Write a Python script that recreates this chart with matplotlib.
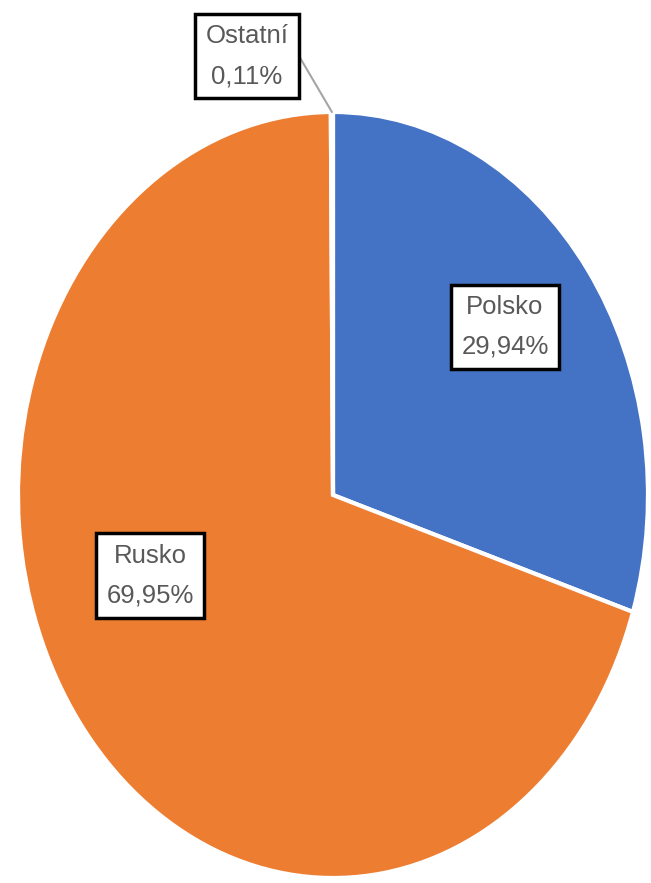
import numpy as np
import matplotlib.pyplot as plt

# Data
labels = ["Polsko", "Rusko", "Ostatní"]
values = [29.94, 69.95, 0.11]
colors = ["#4472C4", "#ED7D31", "#A5A5A5"]

# label box centers (data coords, pie radius = 1)
label_pos = [(0.546, 0.439), (-0.581, -0.211), (-0.273, 1.146)]

fig = plt.figure(figsize=(6.51, 8.83), dpi=100)
# pie is stretched into an ellipse, so use an axes with free aspect
ax = fig.add_axes([18 / 651, 5 / 883, 630 / 651, 766 / 883])

wedges, _ = ax.pie(values, colors=colors, startangle=90, counterclock=False,
                   radius=1, wedgeprops=dict(edgecolor="white", linewidth=3))
ax.set_aspect("auto")
ax.set_xlim(-1, 1)
ax.set_ylim(-1, 1)
ax.set_axis_off()

box = dict(boxstyle="square,pad=0.4", facecolor="white", edgecolor="black", linewidth=2.5)

for w, name, val, pos in zip(wedges, labels, values, label_pos):
    txt = "{}\n{}%".format(name, ("%.2f" % val).replace(".", ","))
    if val < 1:
        # small slice gets a leader line
        ang = np.deg2rad((w.theta1 + w.theta2) / 2)
        ax.annotate(txt, xy=(np.cos(ang), np.sin(ang)), xytext=pos,
                    ha="center", va="center", fontsize=18.5, color="#595959",
                    family="Liberation Sans", linespacing=1.85, bbox=box,
                    annotation_clip=False,
                    arrowprops=dict(arrowstyle="-", color="#A5A5A5", lw=1.5,
                                    shrinkA=0, shrinkB=0, relpos=(1, 0.78)))
    else:
        ax.text(pos[0], pos[1], txt, ha="center", va="center", fontsize=18.5,
                color="#595959", family="Liberation Sans", linespacing=1.85, bbox=box)

fig.savefig("out.png", dpi=100)
